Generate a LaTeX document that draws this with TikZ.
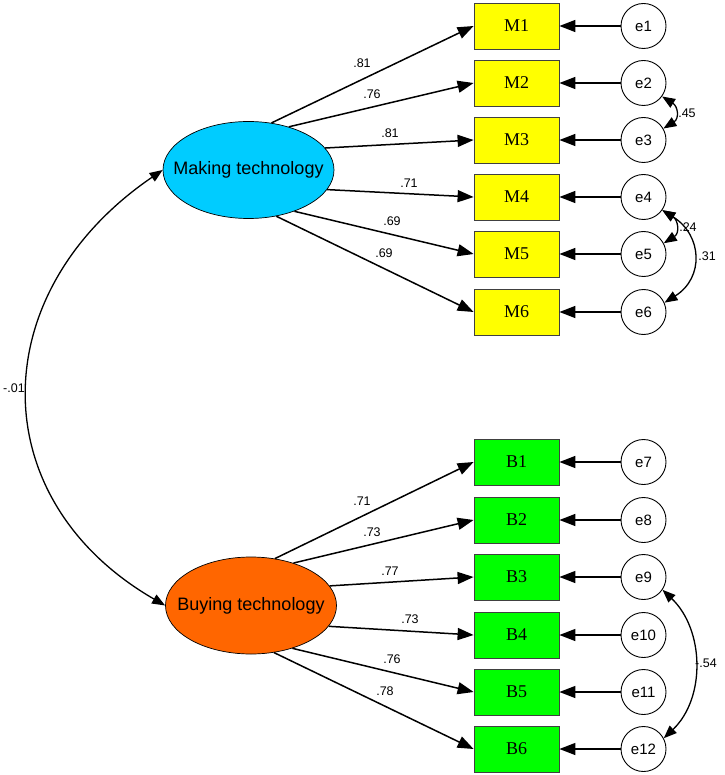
\documentclass[tikz,border=0pt]{standalone}
\usepackage{fontspec}
\setmainfont{Liberation Serif}
\newfontfamily\arialf{Liberation Sans}
\usetikzlibrary{arrows.meta,shapes.geometric}
\definecolor{mkcyan}{RGB}{0,204,255}
\definecolor{byorange}{RGB}{255,102,0}
\definecolor{obsyellow}{RGB}{255,255,0}
\definecolor{obsgreen}{RGB}{0,255,0}
\begin{document}
\begin{tikzpicture}[x=1pt,y=-1pt,
 latent/.style={ellipse,draw=black,line width=0.7pt,minimum width=171pt,minimum height=97pt,inner sep=0pt,font=\arialf\fontsize{18}{20}\selectfont},
 obs/.style={rectangle,draw=black!75,line width=0.8pt,minimum width=85pt,minimum height=46pt,inner sep=0pt,text depth=-2pt,font=\fontsize{18}{20}\selectfont},
 err/.style={circle,draw=black,line width=0.9pt,minimum size=45pt,inner sep=0pt,font=\arialf\fontsize{15}{17}\selectfont},
 ld/.style={line width=1.5pt,-{Triangle[length=16pt,width=12pt]}},
 cv/.style={line width=1.3pt,{Triangle[length=13pt,width=10pt]}-{Triangle[length=13pt,width=10pt]}},
 lab/.style={font=\arialf\fontsize{12.5}{14}\selectfont,inner sep=0pt}]
\useasboundingbox (0,0) rectangle (724,775);
% latent variables
\node[latent,fill=mkcyan] (MT) at (248.5,170) {\makebox[0pt]{Making technology}};
\node[latent,fill=byorange] (BT) at (251,605.5) {\makebox[0pt]{Buying technology}};
% observed
\node[obs,fill=obsyellow] (M1) at (516.5,26) {M1};
\node[obs,fill=obsyellow] (M2) at (516.5,83) {M2};
\node[obs,fill=obsyellow] (M3) at (516.5,140) {M3};
\node[obs,fill=obsyellow] (M4) at (516.5,197) {M4};
\node[obs,fill=obsyellow] (M5) at (516.5,254) {M5};
\node[obs,fill=obsyellow] (M6) at (516.5,312) {M6};
\node[obs,fill=obsgreen] (B1) at (516.5,462) {B1};
\node[obs,fill=obsgreen] (B2) at (516.5,520) {B2};
\node[obs,fill=obsgreen] (B3) at (516.5,577) {B3};
\node[obs,fill=obsgreen] (B4) at (516.5,635) {B4};
\node[obs,fill=obsgreen] (B5) at (516.5,692) {B5};
\node[obs,fill=obsgreen] (B6) at (516.5,749) {B6};
% errors
\node[err] (e1) at (643.5,26) {e1};
\node[err] (e2) at (643.5,83) {e2};
\node[err] (e3) at (643.5,140) {e3};
\node[err] (e4) at (643.5,197) {e4};
\node[err] (e5) at (643.5,254) {e5};
\node[err] (e6) at (643.5,312) {e6};
\node[err] (e7) at (643.5,462) {e7};
\node[err] (e8) at (643.5,520) {e8};
\node[err] (e9) at (643.5,577) {e9};
\node[err] (e10) at (643.5,635) {e10};
\node[err] (e11) at (643.5,692) {e11};
\node[err] (e12) at (643.5,749) {e12};
% loadings
\draw[ld] (MT.64) -- (M1.west);
\draw[ld] (MT.47) -- (M2.west);
\draw[ld] (MT.16) -- (M3.west);
\draw[ld] (MT.-14) -- (M4.west);
\draw[ld] (MT.-42) -- (M5.west);
\draw[ld] (MT.-59) -- (M6.west);
\draw[ld] (BT.63) -- (B1.west);
\draw[ld] (BT.45) -- (B2.west);
\draw[ld] (BT.14.5) -- (B3.west);
\draw[ld] (BT.-15.6) -- (B4.west);
\draw[ld] (BT.-46) -- (B5.west);
\draw[ld] (BT.-64) -- (B6.west);
% error paths
\foreach \i/\o in {1/M1,2/M2,3/M3,4/M4,5/M5,6/M6,7/B1,8/B2,9/B3,10/B4,11/B5,12/B6}
  \draw[ld] (e\i.west) -- (\o.east);
% loading labels
\node[lab] (l1) at (362,63) {.81};
\node[lab] (l2) at (372,94) {.76};
\node[lab] (l3) at (390,133) {.81};
\node[lab] (l4) at (409,183) {.71};
\node[lab] (l5) at (392,221) {.69};
\node[lab] (l6) at (384,253) {.69};
\node[lab] (l7) at (362,501) {.71};
\node[lab] (l8) at (372,532) {.73};
\node[lab] (l9) at (390,571) {.77};
\node[lab] (l10) at (410,619) {.73};
\node[lab] (l11) at (392,659) {.76};
\node[lab] (l12) at (385,691) {.78};
% covariances
\draw[cv] (MT.west) .. controls (-17.5,293) and (-17.5,500) .. (BT.west);
\node[lab] (c0) at (14,388) {-.01};
\draw[cv] (e2.-36) .. controls +(16,10) and +(16,-10) .. (e3.30);
\node[lab] (c1) at (687,113) {.45};
\draw[cv] (e4.-35) .. controls +(16,10) and +(16,-10) .. (e5.28);
\node[lab] (c2) at (688,227) {.24};
\draw[cv] (e4.-35) .. controls +(40,25) and +(40,-25) .. (e6.24);
\node[lab] (c3) at (707,256) {.31};
\draw[cv] (e9.-34) .. controls +(42,40) and +(42,-40) .. (e12.28);
\node[lab] (c4) at (706,663) {-.54};
\end{tikzpicture}
\end{document}
